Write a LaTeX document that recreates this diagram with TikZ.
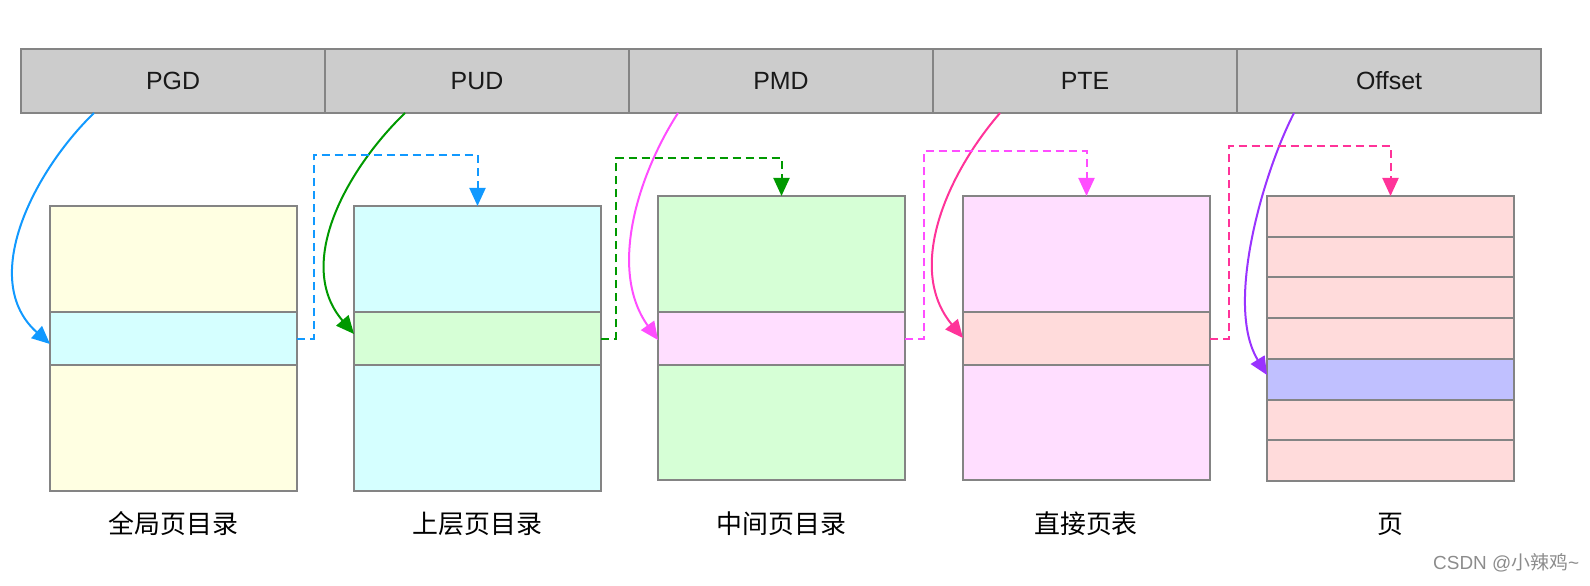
\documentclass[tikz,border=0pt]{standalone}
\usepackage{fontspec}
\setmainfont{Liberation Sans}
\newfontfamily\cjk{Noto Sans CJK SC}
\usetikzlibrary{arrows.meta}
\definecolor{barfill}{HTML}{CCCCCC}
\definecolor{bord}{HTML}{848484}
\definecolor{ylw}{HTML}{FFFFE2}
\definecolor{cyn}{HTML}{D5FFFF}
\definecolor{grn}{HTML}{D6FFD6}
\definecolor{pnk}{HTML}{FFDEFF}
\definecolor{sal}{HTML}{FFDBDB}
\definecolor{prp}{HTML}{C0C0FF}
\definecolor{ablue}{HTML}{1199FF}
\definecolor{agreen}{HTML}{009900}
\definecolor{amag}{HTML}{FF4DFF}
\definecolor{apink}{HTML}{FF3399}
\definecolor{apurple}{HTML}{9933FF}
\definecolor{wmark}{HTML}{8C8C8C}
\tikzset{
  barcell/.style={draw=bord, fill=barfill, line width=2bp, minimum width=304bp, minimum height=64bp,
    inner sep=0pt, outer sep=0pt, anchor=north west, font=\fontsize{25}{30}\selectfont, text=black!90},
  cell/.style={draw=bord, line width=2bp, minimum width=247bp, inner sep=0pt, outer sep=0pt, anchor=north west},
  lbl/.style={font=\cjk\fontsize{26}{30}\selectfont, inner sep=0pt},
  conn/.style={line width=2bp, -{Triangle[length=18bp,width=16bp]}},
  dconn/.style={line width=2bp, dash pattern=on 8bp off 5bp, -{Triangle[length=18bp,width=16bp]}}
}
\begin{document}
\begin{tikzpicture}[x=1bp,y=-1bp]
\useasboundingbox (0,0) rectangle (1590,586);
% top bar
\node[barcell] (pgd) at (21,49) {PGD};
\node[barcell] (pud) at (325,49) {PUD};
\node[barcell] (pmd) at (629,49) {PMD};
\node[barcell] (pte) at (933,49) {PTE};
\node[barcell] (off) at (1237,49) {Offset};
% box 1
\node[cell, fill=ylw, minimum height=106bp] (b1t) at (50,206) {};
\node[cell, fill=cyn, minimum height=53bp] (b1m) at (50,312) {};
\node[cell, fill=ylw, minimum height=126bp] (b1b) at (50,365) {};
% box 2
\node[cell, fill=cyn, minimum height=106bp] (b2t) at (354,206) {};
\node[cell, fill=grn, minimum height=53bp] (b2m) at (354,312) {};
\node[cell, fill=cyn, minimum height=126bp] (b2b) at (354,365) {};
% box 3
\node[cell, fill=grn, minimum height=116bp] (b3t) at (658,196) {};
\node[cell, fill=pnk, minimum height=53bp] (b3m) at (658,312) {};
\node[cell, fill=grn, minimum height=115bp] (b3b) at (658,365) {};
% box 4
\node[cell, fill=pnk, minimum height=116bp] (b4t) at (963,196) {};
\node[cell, fill=sal, minimum height=53bp] (b4m) at (963,312) {};
\node[cell, fill=pnk, minimum height=115bp] (b4b) at (963,365) {};
% box 5
\node[cell, fill=sal, minimum height=40.7bp] (b5r1) at (1267,196) {};
\node[cell, fill=sal, minimum height=40.7bp] (b5r2) at (1267,236.7) {};
\node[cell, fill=sal, minimum height=40.7bp] (b5r3) at (1267,277.4) {};
\node[cell, fill=sal, minimum height=40.7bp] (b5r4) at (1267,318.1) {};
\node[cell, fill=prp, minimum height=40.7bp] (b5r5) at (1267,358.8) {};
\node[cell, fill=sal, minimum height=40.7bp] (b5r6) at (1267,399.5) {};
\node[cell, fill=sal, minimum height=40.7bp] (b5r7) at (1267,440.2) {};
% labels
\node[lbl] (l1) at (173.5,524) {全局页目录};
\node[lbl] (l2) at (477.5,524) {上层页目录};
\node[lbl] (l3) at (781.5,524) {中间页目录};
\node[lbl] (l4) at (1086,524) {直接页表};
\node[lbl] (l5) at (1390,524) {页};
\node[font=\fontsize{19}{22}\selectfont, text=wmark, inner sep=0pt, anchor=west] (wm) at (1433,563) {CSDN @{\cjk\fontsize{19}{22}\selectfont 小辣鸡}\textasciitilde};
% curve starts and ends
\coordinate (s1) at (94,113);   \coordinate (e1) at (50,344);
\coordinate (s2) at (405,113);  \coordinate (e2) at (354,334);
\coordinate (s3) at (678,113);  \coordinate (e3) at (658,340);
\coordinate (s4) at (1000,113); \coordinate (e4) at (963,338);
\coordinate (s5) at (1294,113); \coordinate (e5) at (1267,375);
\draw[conn, ablue] (s1) .. controls +(-60,58) and +(-72,-64) .. (e1);
\draw[conn, agreen] (s2) .. controls +(-58,56) and +(-60,-70) .. (e2);
\draw[conn, amag] (s3) .. controls +(-40,62) and +(-50,-70) .. (e3);
\draw[conn, apink] (s4) .. controls +(-52,60) and +(-58,-70) .. (e4);
\draw[conn, apurple] (s5) .. controls +(-30,58) and +(-43,-70) .. (e5);
% dashed links
\coordinate (j1) at (314,155);
\coordinate (j2) at (616,158);
\coordinate (j3) at (924,151);
\coordinate (j4) at (1229,146);
\draw[dconn, ablue] (b1m.east) -| (j1) -| (b2t.north);
\draw[dconn, agreen] (b2m.east) -| (j2) -| (b3t.north);
\draw[dconn, amag] (b3m.east) -| (j3) -| (b4t.north);
\draw[dconn, apink] (b4m.east) -| (j4) -| (b5r1.north);
\end{tikzpicture}
\end{document}
